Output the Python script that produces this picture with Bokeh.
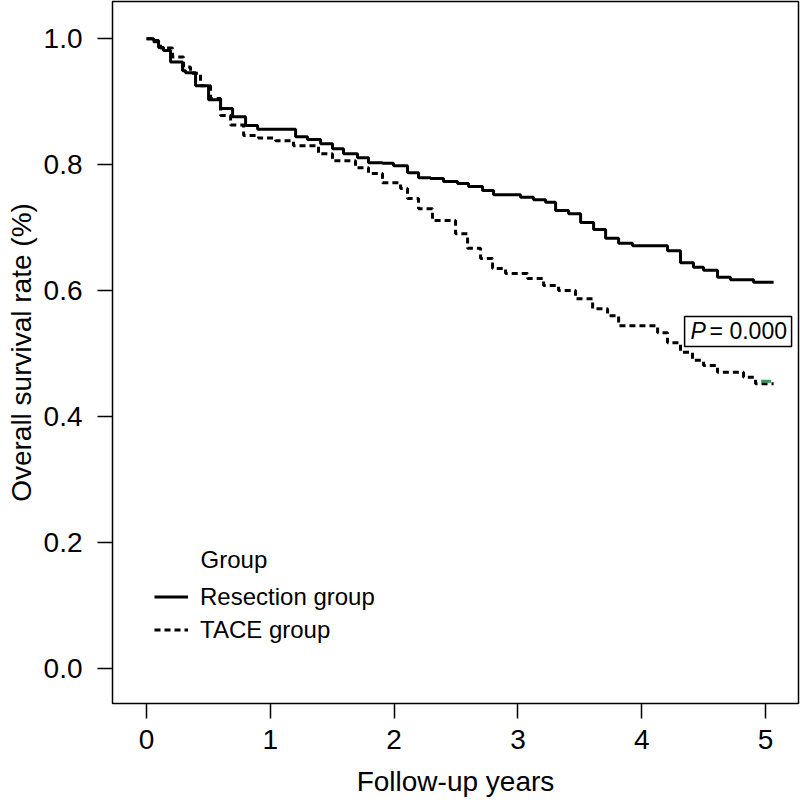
from bokeh.plotting import figure
from bokeh.models import (FixedTicker, PrintfTickFormatter, Legend, LegendItem,
                          Label, BoxAnnotation, Range1d)
from bokeh.embed import file_html
from bokeh.resources import INLINE

# ---- data ----
resection_time = [0.000, 0.057, 0.097, 0.137, 0.194, 0.291, 0.315, 0.396, 0.501, 0.598,
                  0.695, 0.800, 0.897, 1.204, 1.300, 1.406, 1.502, 1.591, 1.704, 1.793,
                  1.906, 1.995, 2.108, 2.197, 2.294, 2.399, 2.512, 2.601, 2.714, 2.803,
                  3.021, 3.126, 3.223, 3.304, 3.409, 3.506, 3.611, 3.708, 3.813, 3.926,
                  4.208, 4.313, 4.418, 4.499, 4.612, 4.717, 4.903, 5.065]
resection_surv = [1.000, 0.997, 0.986, 0.981, 0.963, 0.949, 0.946, 0.925, 0.903, 0.889,
                  0.876, 0.862, 0.856, 0.844, 0.840, 0.833, 0.825, 0.817, 0.811, 0.803,
                  0.802, 0.798, 0.787, 0.779, 0.778, 0.773, 0.770, 0.765, 0.759, 0.752,
                  0.748, 0.744, 0.740, 0.727, 0.722, 0.708, 0.697, 0.683, 0.675, 0.671,
                  0.663, 0.644, 0.637, 0.632, 0.621, 0.617, 0.613, 0.613]

tace_time = [0.000, 0.057, 0.113, 0.210, 0.299, 0.355, 0.436, 0.517, 0.598, 0.679,
             0.784, 0.905, 1.042, 1.187, 1.389, 1.502, 1.688, 1.793, 1.906, 2.052,
             2.108, 2.197, 2.310, 2.496, 2.593, 2.698, 2.795, 2.900, 3.078, 3.207,
             3.328, 3.465, 3.603, 3.724, 3.813, 4.128, 4.208, 4.313, 4.410, 4.499,
             4.612, 4.822, 4.919, 5.065]
tace_surv = [1.000, 0.995, 0.985, 0.971, 0.955, 0.945, 0.925, 0.905, 0.878, 0.863,
             0.846, 0.842, 0.838, 0.830, 0.817, 0.806, 0.795, 0.786, 0.771, 0.762,
             0.746, 0.730, 0.711, 0.690, 0.667, 0.651, 0.635, 0.627, 0.619, 0.608,
             0.600, 0.587, 0.571, 0.560, 0.544, 0.533, 0.517, 0.502, 0.489, 0.481,
             0.470, 0.462, 0.452, 0.452]

x_ticks = [0, 1, 2, 3, 4, 5]
y_ticks = [0.0, 0.2, 0.4, 0.6, 0.8, 1.0]
x_title = "Follow-up years"
y_title = "Overall survival rate (%)"
group_labels = ["Resection group", "TACE group"]
p_text = "= 0.000"

FONT = "Liberation Sans"

p = figure(width=800, height=807, output_backend="svg", toolbar_location=None,
           x_range=Range1d(-0.275, 5.266), y_range=Range1d(-0.056, 1.059),
           min_border_left=112, min_border_right=2, min_border_top=1,
           min_border_bottom=104)
p.grid.visible = False
p.outline_line_color = "black"
p.outline_line_width = 1.5
p.background_fill_color = "white"

for ax in (p.xaxis[0], p.yaxis[0]):
    ax.axis_line_color = None
    ax.major_tick_out = 15
    ax.major_tick_in = 0
    ax.major_tick_line_color = "black"
    ax.major_tick_line_width = 1.5
    ax.minor_tick_line_color = None
    ax.major_label_text_font = FONT
    ax.major_label_text_font_size = "28px"
    ax.major_label_text_color = "black"
    ax.axis_label_text_font = FONT
    ax.axis_label_text_font_size = "28px"
    ax.axis_label_text_font_style = "normal"
    ax.axis_label_text_color = "black"

p.xaxis.ticker = FixedTicker(ticks=x_ticks)
p.yaxis.ticker = FixedTicker(ticks=y_ticks)
p.yaxis.formatter = PrintfTickFormatter(format="%.1f")
p.xaxis.axis_label = x_title
p.yaxis.axis_label = y_title
p.xaxis.major_label_standoff = 11
p.xaxis.axis_label_standoff = 14
p.yaxis.major_label_standoff = 15
p.yaxis.axis_label_standoff = 4

r1 = p.step(resection_time, resection_surv, mode="after", line_color="black",
            line_width=3)
r2 = p.step(tace_time, tace_surv, mode="after", line_color="black",
            line_width=3, line_dash="6 4")
# small green censor tick at the end of the TACE curve
p.line([tace_time[-1] - 0.1, tace_time[-1] - 0.02], [tace_surv[-1] + 0.004] * 2,
       line_color="#2e9e5b", line_width=3)

legend = Legend(items=[LegendItem(label=group_labels[0], renderers=[r1]),
                       LegendItem(label=group_labels[1], renderers=[r2])],
                location=(42, 57), background_fill_alpha=0, border_line_color=None,
                padding=0, margin=0, spacing=0, glyph_width=34, glyph_height=33,
                label_height=33, label_standoff=12, label_text_font=FONT,
                label_text_font_size="24px", label_text_color="black")
p.add_layout(legend)

p.add_layout(Label(x=0.436, y=0.172, text="Group", text_font=FONT,
                   text_font_size="24px", text_baseline="middle", text_color="black"))

p.add_layout(BoxAnnotation(left=4.346, right=5.21, top=0.5587, bottom=0.511,
                           fill_color="white", fill_alpha=1.0,
                           line_color="black", line_alpha=1.0, line_width=1.5))
p.add_layout(Label(x=4.346, y=0.535, x_offset=6, text="P", text_font=FONT,
                   text_font_style="italic", text_font_size="23px",
                   text_baseline="middle", text_color="black"))
p.add_layout(Label(x=4.346, y=0.535, x_offset=25, text=p_text, text_font=FONT,
                   text_font_size="23px", text_baseline="middle", text_color="black"))

open("out.html", "w").write(file_html(p, INLINE))
